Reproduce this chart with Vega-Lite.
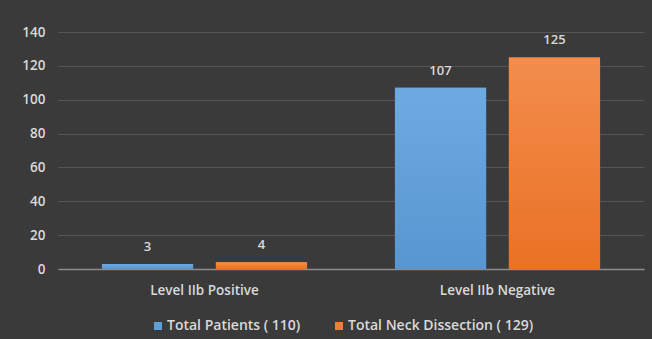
{
  "$schema": "https://vega.github.io/schema/vega-lite/v6.json",
  "width": 586,
  "height": 237,
  "autosize": {"type": "none"},
  "padding": {"left": 58, "top": 32, "right": 8, "bottom": 70},
  "background": "#3a3a3a",
  "config": {
    "view": {"stroke": null},
    "font": "Open Sans",
    "axis": {"labelColor": "#d9d9d9", "labelFontSize": 13.5, "labelFont": "Open Sans", "labelFontWeight": 600}
  },
  "data": {
    "values": [
      {"level": "Level IIb Positive", "series": "Total Patients ( 110)", "value": 3},
      {"level": "Level IIb Positive", "series": "Total Neck Dissection ( 129)", "value": 4},
      {"level": "Level IIb Negative", "series": "Total Patients ( 110)", "value": 107},
      {"level": "Level IIb Negative", "series": "Total Neck Dissection ( 129)", "value": 125}
    ]
  },
  "encoding": {
    "x": {
      "field": "level", "type": "nominal", "sort": null, "title": null,
      "scale": {"paddingInner": 0.3, "paddingOuter": 0.15},
      "axis": {"labelAngle": 0, "ticks": false, "domainColor": "#8c8c8c", "domainWidth": 1.5, "labelPadding": 14}
    },
    "xOffset": {
      "field": "series", "type": "nominal", "sort": null,
      "scale": {"paddingInner": 0.2, "paddingOuter": 0}
    },
    "y": {
      "field": "value", "type": "quantitative", "title": null,
      "scale": {"domain": [0, 140]},
      "axis": {"values": [0, 20, 40, 60, 80, 100, 120, 140], "ticks": false, "domain": false, "gridColor": "#555555", "gridWidth": 1, "labelPadding": 13}
    }
  },
  "layer": [
    {
      "mark": {"type": "bar"},
      "encoding": {
        "color": {
          "field": "series", "type": "nominal", "sort": null,
          "scale": {"domain": ["Total Patients ( 110)", "Total Neck Dissection ( 129)"], "range": ["#5f9fd9", "#ee7f35"]},
          "legend": {
            "title": null, "orient": "none", "direction": "horizontal",
            "legendX": 93, "legendY": 287,
            "symbolType": "square", "symbolSize": 64, "symbolStrokeWidth": 0,
            "labelColor": "#d9d9d9", "labelFontSize": 14, "labelFont": "Open Sans", "labelFontWeight": 600,
            "labelLimit": 400, "columnPadding": 31, "labelOffset": 2
          }
        }
      }
    },
    {
      "transform": [{"filter": "datum.series === 'Total Patients ( 110)'"}],
      "mark": {"type": "bar", "fill": {"gradient": "linear", "x1": 0, "y1": 0, "x2": 0, "y2": 1, "stops": [{"offset": 0, "color": "#6eaae2"}, {"offset": 1, "color": "#5896d1"}]}},
      "encoding": {}
    },
    {
      "transform": [{"filter": "datum.series === 'Total Neck Dissection ( 129)'"}],
      "mark": {"type": "bar", "fill": {"gradient": "linear", "x1": 0, "y1": 0, "x2": 0, "y2": 1, "stops": [{"offset": 0, "color": "#f38d4d"}, {"offset": 1, "color": "#ea7125"}]}},
      "encoding": {}
    },
    {
      "mark": {"type": "text", "baseline": "bottom", "dy": -10, "color": "#d9d9d9", "fontSize": 13, "font": "Open Sans", "fontWeight": 600},
      "encoding": {"text": {"field": "value", "type": "quantitative"}}
    }
  ]
}
